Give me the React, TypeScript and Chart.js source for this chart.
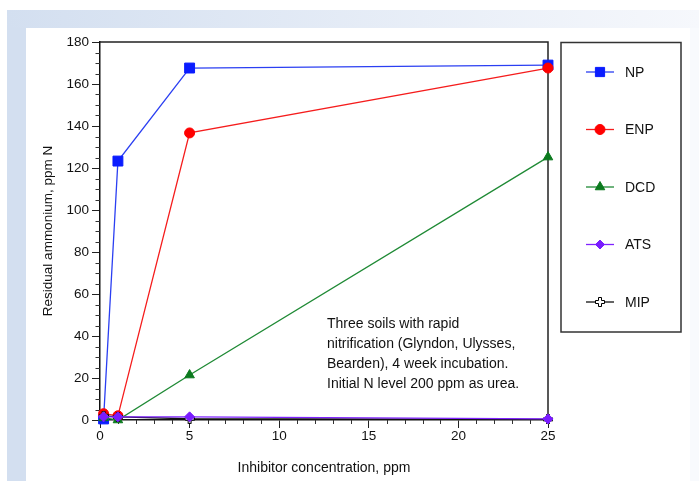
import React, { useEffect, useRef } from 'react';
import { Chart, registerables } from 'chart.js';
import { drawPoint } from 'chart.js/helpers';

Chart.register(...registerables);

// ---- data ----
const concentrations = [0.2, 1, 5, 25];
const npValues = [0.5, 123.3, 167.6, 169];
const enpValues = [3, 2, 136.7, 167.6];
const dcdValues = [1, 0, 21.4, 125.2];
const atsValues = [1.5, 1.5, 1.5, 0.5];
const mipValues = [2, 1.5, 0.6, 0.3];
const seriesNames = ['NP', 'ENP', 'DCD', 'ATS', 'MIP'];
const xMinorStep = 1;
const yMinorStep = 5;
const noteLines = [
  'Three soils with rapid',
  'nitrification (Glyndon, Ulysses,',
  'Bearden), 4 week incubation.',
  'Initial N level 200 ppm as urea.',
];
const xTitle = 'Inhibitor concentration, ppm';
const yTitle = 'Residual ammonium, ppm N';

const FONT = '"Liberation Sans", Arial, Helvetica, sans-serif';
const W = 699;
const H = 481;

function makeOpenCross(): HTMLCanvasElement {
  const c = document.createElement('canvas');
  c.width = 10;
  c.height = 10;
  const g = c.getContext('2d')!;
  g.beginPath();
  const p = [
    [3.5, 0.5], [6.5, 0.5], [6.5, 3.5], [9.5, 3.5], [9.5, 6.5], [6.5, 6.5],
    [6.5, 9.5], [3.5, 9.5], [3.5, 6.5], [0.5, 6.5], [0.5, 3.5], [3.5, 3.5],
  ];
  g.moveTo(p[0][0], p[0][1]);
  for (let i = 1; i < p.length; i++) g.lineTo(p[i][0], p[i][1]);
  g.closePath();
  g.fillStyle = '#ffffff';
  g.fill();
  g.strokeStyle = '#000000';
  g.lineWidth = 1;
  g.stroke();
  return c;
}

const bgPlugin = {
  id: 'bgPanel',
  beforeDraw(chart: any) {
    const ctx = chart.ctx;
    ctx.save();
    ctx.fillStyle = '#ffffff';
    ctx.fillRect(0, 0, W, H);
    const grad = ctx.createLinearGradient(7, 0, W, 0);
    grad.addColorStop(0, '#d3dff0');
    grad.addColorStop(1, '#f6f8fc');
    ctx.fillStyle = grad;
    ctx.fillRect(7, 10, W - 7, 18);
    ctx.fillStyle = '#d3dff0';
    ctx.fillRect(7, 28, 19, H - 28);
    ctx.fillStyle = '#f8fafd';
    ctx.fillRect(690, 28, W - 690, H - 28);
    ctx.restore();
  },
};

const framePlugin = {
  id: 'frameMinor',
  beforeDatasetsDraw(chart: any) {
    const { ctx, chartArea, scales } = chart;
    ctx.save();
    ctx.strokeStyle = '#222';
    ctx.lineWidth = 1.5;
    ctx.beginPath();
    ctx.moveTo(chartArea.left, chartArea.top);
    ctx.lineTo(chartArea.right, chartArea.top);
    ctx.lineTo(chartArea.right, chartArea.bottom);
    ctx.stroke();
    // minor ticks
    ctx.strokeStyle = '#333';
    ctx.lineWidth = 1;
    const xs = scales.x;
    const ys = scales.y;
    ctx.beginPath();
    for (let v = xs.min; v <= xs.max; v += xMinorStep) {
      if (v % 5 === 0) continue;
      const px = Math.round(xs.getPixelForValue(v)) + 0.5;
      ctx.moveTo(px, chartArea.bottom);
      ctx.lineTo(px, chartArea.bottom + 4);
    }
    for (let v = ys.min; v <= ys.max; v += yMinorStep) {
      if (v % 20 === 0) continue;
      const py = Math.round(ys.getPixelForValue(v)) + 0.5;
      ctx.moveTo(chartArea.left - 4.5, py);
      ctx.lineTo(chartArea.left, py);
    }
    ctx.stroke();
    ctx.restore();
  },
  afterDraw(chart: any) {
    const ctx = chart.ctx;
    ctx.save();
    // note text
    ctx.fillStyle = '#111';
    ctx.font = `14px ${FONT}`;
    ctx.textAlign = 'left';
    ctx.textBaseline = 'middle';
    noteLines.forEach((t, i) => ctx.fillText(t, 327, 324 + i * 20));
    // legend
    ctx.strokeStyle = '#333';
    ctx.lineWidth = 1.5;
    ctx.strokeRect(561, 42.5, 120, 289.5);
    chart.data.datasets.forEach((ds: any, i: number) => {
      const y = 72 + i * 57.5;
      ctx.strokeStyle = ds.borderColor;
      ctx.lineWidth = ds.borderWidth;
      ctx.beginPath();
      ctx.moveTo(586, y);
      ctx.lineTo(614, y);
      ctx.stroke();
      ctx.fillStyle = ds.pointBackgroundColor;
      ctx.strokeStyle = ds.pointBorderColor;
      ctx.lineWidth = 1;
      drawPoint(ctx, {
        pointStyle: ds.pointStyle,
        rotation: 0,
        radius: ds.legendRadius,
        borderWidth: 1,
      }, 600, y);
      ctx.fillStyle = '#111';
      ctx.font = `14px ${FONT}`;
      ctx.textBaseline = 'middle';
      ctx.fillText(ds.label, 625, y + 1);
    });
    ctx.restore();
  },
};

function toPts(vals: number[]) {
  return concentrations.map((x, i) => ({ x, y: vals[i] }));
}

export default function App() {
  const ref = useRef<HTMLCanvasElement>(null);
  useEffect(() => {
    document.body.style.margin = '0';
    document.body.style.overflow = 'hidden';
    const cross = makeOpenCross();
    Chart.defaults.font.family = FONT;
    Chart.defaults.color = '#111';
    const common = { borderWidth: 1.3, tension: 0, pointBorderWidth: 1, clip: false as any, showLine: true };
    const chart = new Chart(ref.current!, {
      type: 'line',
      data: {
        datasets: [
          { ...common, label: seriesNames[0], data: toPts(npValues), borderColor: '#2b3ff2', pointBackgroundColor: '#0a1cff', pointBorderColor: '#0a1cff', pointStyle: 'rect', pointRadius: 7, legendRadius: 6.5, order: 4 } as any,
          { ...common, label: seriesNames[1], data: toPts(enpValues), borderColor: '#f51c1c', pointBackgroundColor: '#ff0000', pointBorderColor: '#ff0000', pointStyle: 'circle', pointRadius: 5, legendRadius: 5, order: 3 } as any,
          { ...common, label: seriesNames[2], data: toPts(dcdValues), borderColor: '#1f8a35', pointBackgroundColor: '#0b7a1e', pointBorderColor: '#0b7a1e', pointStyle: 'triangle', pointRadius: 5.5, legendRadius: 5.5, order: 2 } as any,
          { ...common, label: seriesNames[3], data: toPts(atsValues), borderColor: '#7f22ff', pointBackgroundColor: '#7a1cff', pointBorderColor: '#7a1cff', pointStyle: 'rectRot', pointRadius: 5, legendRadius: 4.5, order: 0 } as any,
          { ...common, label: seriesNames[4], data: toPts(mipValues), borderColor: '#111111', pointBackgroundColor: '#ffffff', pointBorderColor: '#111111', pointStyle: cross, pointRadius: 5, legendRadius: 5, order: 1 } as any,
        ],
      },
      options: {
        responsive: false,
        animation: false,
        devicePixelRatio: 1,
        layout: { padding: { left: 26, right: 151, top: 42, bottom: 0 } },
        plugins: { legend: { display: false }, tooltip: { enabled: false } },
        scales: {
          x: {
            type: 'linear',
            min: 0,
            max: 25,
            ticks: { stepSize: 5, color: '#111', font: { size: 13.5 }, padding: 0, maxRotation: 0 },
            grid: { display: true, drawOnChartArea: false, drawTicks: true, tickLength: 8, color: '#222', lineWidth: 1 },
            border: { display: true, color: '#111', width: 1.5 },
            title: { display: true, text: xTitle, color: '#111', font: { size: 14 }, padding: { top: 0, bottom: 4.6 } },
            afterFit: (s: any) => { s.height = 61; },
          },
          y: {
            type: 'linear',
            min: 0,
            max: 180,
            ticks: { stepSize: 20, color: '#111', font: { size: 13.5 }, padding: 3 },
            grid: { display: true, drawOnChartArea: false, drawTicks: true, tickLength: 8, color: '#222', lineWidth: 1 },
            border: { display: true, color: '#111', width: 1.5 },
            title: { display: true, text: yTitle, color: '#111', font: { size: 13.5 }, padding: { top: 14, bottom: 0 } },
            afterFit: (s: any) => { s.width = 74; },
          },
        },
      },
      plugins: [bgPlugin, framePlugin],
    });
    return () => chart.destroy();
  }, []);
  return (
    <div style={{ width: W, height: H }}>
      <canvas ref={ref} width={W} height={H} style={{ display: 'block' }} />
    </div>
  );
}
